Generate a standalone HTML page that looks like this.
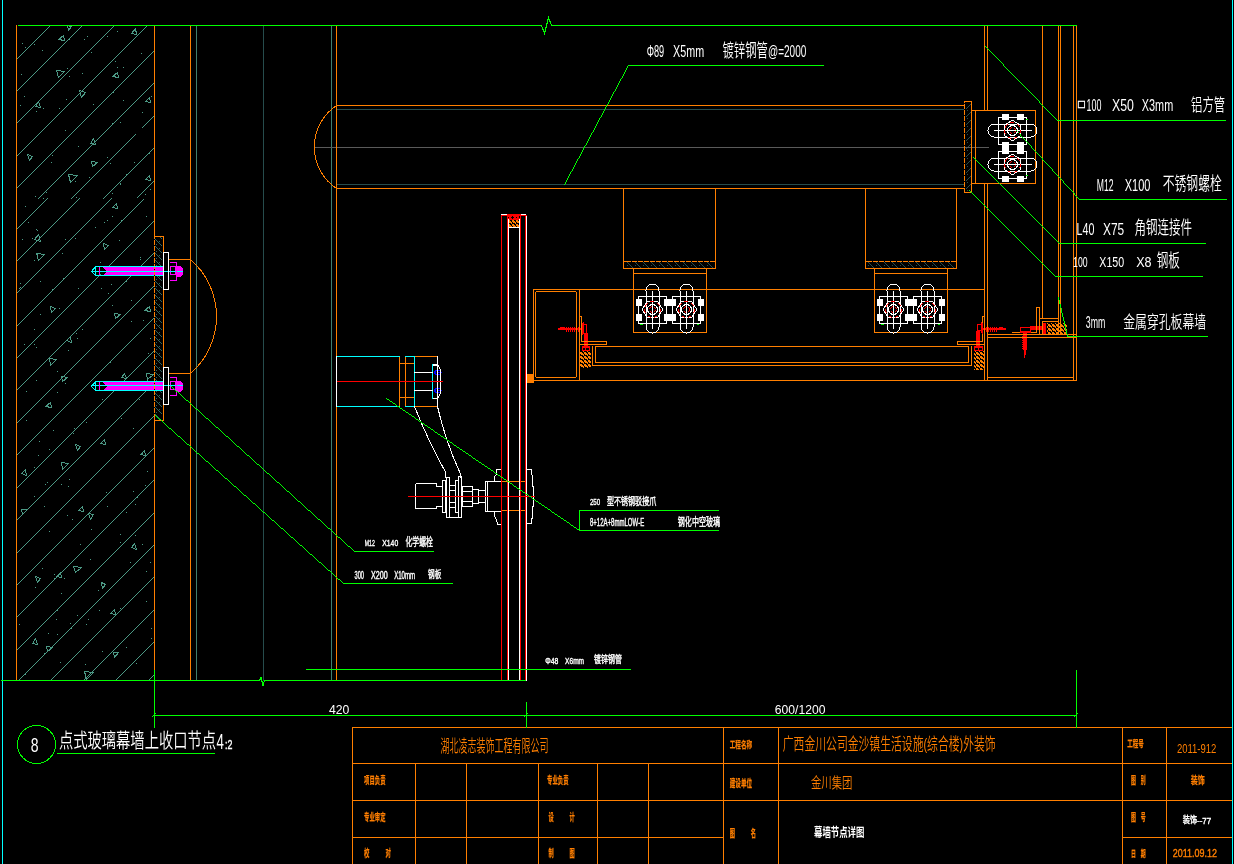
<!DOCTYPE html>
<html lang="zh-CN"><head><meta charset="utf-8"><title>点式玻璃幕墙上收口节点 - 幕墙节点详图</title>
<style>
html,body{margin:0;padding:0;background:#000;overflow:hidden}
svg{display:block}
.s{fill:none;stroke-width:1}
text{white-space:pre}
.l{font-family:"Liberation Sans",sans-serif}
.c{font-family:"Liberation Sans","Noto Sans CJK SC","WenQuanYi Zen Hei",sans-serif}
</style></head><body>
<svg width="1234" height="864" viewBox="0 0 1234 864">
<rect width="1234" height="864" fill="#000"/>
<g shape-rendering="crispEdges">
<path class="s" stroke="#4c9985" d="M17.05 58.95L49.95 26.05M17.05 90.95L81.95 26.05M17.05 122.95L113.95 26.05M17.05 155.95L146.95 26.05M17.05 187.95L153.95 51.05M38.05 198.95L153.95 83.05M71.05 198.95L135.95 134.05M142.05 127.95L153.95 116.05M103.05 198.95L153.95 148.05M137.05 197.95L153.95 181.05M17.05 228.95L47.95 198.05M17.05 260.95L79.95 198.05M17.05 292.95L111.95 198.05M17.05 325.95L143.95 199.05M17.05 357.95L153.95 221.05M17.05 389.95L153.95 253.05M17.05 422.95L153.95 286.05M17.05 454.95L153.95 318.05M17.05 487.95L153.95 351.05M17.05 519.95L153.95 383.05M17.05 552.95L153.95 416.05M17.05 584.95L153.95 448.05M17.05 616.95L153.95 480.05M17.05 649.95L153.95 513.05M19.05 679.95L153.95 545.05M51.05 679.95L153.95 577.05M84.05 679.95L153.95 610.05M116.05 679.95L153.95 642.05M149.05 679.95L153.95 675.05M58.5 39.5L63.5 35.5L64.5 40.5ZM135.5 28.5L136.5 34.5L131.5 33.5ZM64.5 71.5L58.5 77.5L56.5 70.5ZM112.5 76.5L117.5 72.5L118.5 77.5ZM81.5 97.5L79.5 90.5L85.5 92.5ZM38.5 101.5L40.5 107.5L35.5 106.5ZM145.5 101.5L149.5 97.5L150.5 102.5ZM93.5 138.5L95.5 144.5L90.5 143.5ZM29.5 160.5L27.5 154.5L32.5 156.5ZM97.5 162.5L92.5 166.5L91.5 161.5ZM77.5 175.5L70.5 182.5L68.5 174.5ZM145.5 179.5L149.5 175.5L150.5 180.5ZM112.5 207.5L116.5 203.5L117.5 208.5ZM38.5 234.5L40.5 241.5L34.5 239.5ZM44.5 254.5L38.5 260.5L36.5 253.5ZM104.5 249.5L103.5 243.5L108.5 245.5ZM51.5 312.5L50.5 306.5L55.5 308.5ZM120.5 314.5L115.5 318.5L114.5 313.5ZM144.5 310.5L149.5 306.5L150.5 311.5ZM70.5 336.5L71.5 342.5L66.5 340.5ZM56.5 359.5L50.5 365.5L49.5 358.5ZM67.5 377.5L62.5 381.5L61.5 376.5ZM45.5 406.5L50.5 402.5L51.5 407.5ZM124.5 373.5L126.5 378.5L121.5 377.5ZM153.5 374.5L147.5 379.5L146.5 373.5ZM77.5 450.5L75.5 444.5L80.5 446.5ZM100.5 443.5L104.5 439.5L105.5 444.5ZM140.5 454.5L144.5 450.5L145.5 455.5ZM25.5 469.5L26.5 475.5L21.5 473.5ZM68.5 463.5L62.5 469.5L61.5 462.5ZM27.5 509.5L22.5 514.5L21.5 509.5ZM78.5 510.5L82.5 506.5L83.5 511.5ZM90.5 519.5L88.5 513.5L93.5 514.5ZM134.5 543.5L136.5 549.5L131.5 547.5ZM81.5 567.5L75.5 572.5L73.5 566.5ZM37.5 582.5L35.5 576.5L40.5 578.5ZM56.5 576.5L60.5 572.5L61.5 577.5ZM102.5 588.5L101.5 582.5L105.5 584.5ZM110.5 613.5L114.5 609.5L115.5 614.5ZM35.5 638.5L37.5 644.5L32.5 643.5ZM52.5 647.5L47.5 651.5L46.5 646.5ZM118.5 652.5L114.5 657.5L113.5 652.5ZM93.5 672.5L86.5 679.5L84.5 671.5ZM68.5 30.5L67.5 25.5L71.5 26.5Z"/>
<path class="s" stroke="#2c635d" d="M160.5 237.5L162.5 239.5M155.5 239.5L162.5 246.5M155.5 246.5L162.5 253.5M155.5 253.5L162.5 260.5M155.5 260.5L162.5 267.5M155.5 267.5L162.5 274.5M155.5 274.5L162.5 281.5M155.5 281.5L162.5 288.5M155.5 288.5L162.5 295.5M155.5 295.5L162.5 302.5M155.5 302.5L162.5 309.5M155.5 309.5L162.5 316.5M155.5 316.5L162.5 323.5M155.5 323.5L162.5 330.5M155.5 330.5L162.5 337.5M155.5 337.5L162.5 344.5M155.5 344.5L162.5 351.5M155.5 351.5L162.5 358.5M155.5 358.5L162.5 365.5M155.5 365.5L162.5 372.5M155.5 372.5L162.5 379.5M155.5 379.5L162.5 386.5M155.5 386.5L162.5 393.5M155.5 393.5L162.5 400.5M155.5 400.5L162.5 407.5M155.5 407.5L162.5 414.5M155.5 414.5L160.5 419.5"/>
<path class="s" stroke="#264c4c" d="M263.5 25V681M336 109.5H965M336 184.5H965M627.5 262.5L633.5 268.5M635.5 262.5L641.5 268.5M643.5 262.5L649.5 268.5M651.5 262.5L657.5 268.5M659.5 262.5L665.5 268.5M667.5 262.5L673.5 268.5M675.5 262.5L681.5 268.5M683.5 262.5L689.5 268.5M691.5 262.5L697.5 268.5M699.5 262.5L705.5 268.5M707.5 262.5L713.5 268.5M868.5 262.5L874.5 268.5M876.5 262.5L882.5 268.5M884.5 262.5L890.5 268.5M892.5 262.5L898.5 268.5M900.5 262.5L906.5 268.5M908.5 262.5L914.5 268.5M916.5 262.5L922.5 268.5M924.5 262.5L930.5 268.5M932.5 262.5L938.5 268.5M940.5 262.5L946.5 268.5M948.5 262.5L954.5 268.5M965.5 109.5L970.5 104.5M965.5 117.5L970.5 112.5M965.5 125.5L970.5 120.5M965.5 133.5L970.5 128.5M965.5 141.5L970.5 136.5M965.5 149.5L970.5 144.5M965.5 157.5L970.5 152.5M965.5 165.5L970.5 160.5M965.5 173.5L970.5 168.5M965.5 181.5L970.5 176.5M965.5 189.5L970.5 184.5"/>
<path class="s" stroke="#3f7f6f" d="M196.5 25V681M331.5 25V681"/>
<path class="s" stroke="#5a5a5a" d="M314 147.5H989"/>
<path d="M22 43h1v1h-1zM25 47h1v1h-1zM34 44h1v1h-1zM42 50h1v1h-1zM69 39h1v1h-1zM84 39h1v1h-1zM87 36h1v1h-1zM107 36h1v1h-1zM117 31h1v1h-1zM91 52h1v1h-1zM141 53h1v1h-1zM115 61h1v1h-1zM117 67h1v1h-1zM123 67h1v1h-1zM21 74h1v1h-1zM67 68h1v1h-1zM69 76h1v1h-1zM82 73h1v1h-1zM24 96h1v1h-1zM20 105h1v1h-1zM36 111h1v1h-1zM43 108h1v1h-1zM59 108h1v1h-1zM66 99h1v1h-1zM74 98h1v1h-1zM93 104h1v1h-1zM93 111h1v1h-1zM113 92h1v1h-1zM123 100h1v1h-1zM142 112h1v1h-1zM112 123h1v1h-1zM120 122h1v1h-1zM65 130h1v1h-1zM151 96h1v1h-1zM101 288h1v1h-1zM120 183h1v1h-1zM37 230h1v1h-1zM112 193h1v1h-1zM148 353h1v1h-1zM28 222h1v1h-1zM130 562h1v1h-1zM36 380h1v1h-1zM42 568h1v1h-1zM34 260h1v1h-1zM76 197h1v1h-1zM120 184h1v1h-1zM75 181h1v1h-1zM53 430h1v1h-1zM126 281h1v1h-1zM49 449h1v1h-1zM65 239h1v1h-1zM67 515h1v1h-1zM43 198h1v1h-1zM34 344h1v1h-1zM146 571h1v1h-1zM99 610h1v1h-1zM135 504h1v1h-1zM95 388h1v1h-1zM65 383h1v1h-1zM39 441h1v1h-1zM145 485h1v1h-1zM133 428h1v1h-1zM37 254h1v1h-1zM150 562h1v1h-1zM61 484h1v1h-1zM57 634h1v1h-1zM126 174h1v1h-1zM38 455h1v1h-1zM106 492h1v1h-1zM146 601h1v1h-1zM36 229h1v1h-1zM88 619h1v1h-1zM35 196h1v1h-1zM98 590h1v1h-1zM91 529h1v1h-1zM107 157h1v1h-1zM137 497h1v1h-1zM62 253h1v1h-1zM145 194h1v1h-1zM74 428h1v1h-1zM52 387h1v1h-1zM120 534h1v1h-1zM146 216h1v1h-1zM61 593h1v1h-1zM121 418h1v1h-1zM54 574h1v1h-1zM90 559h1v1h-1zM110 523h1v1h-1zM78 288h1v1h-1zM40 314h1v1h-1zM57 371h1v1h-1zM78 146h1v1h-1zM143 320h1v1h-1zM86 422h1v1h-1zM20 283h1v1h-1zM126 512h1v1h-1zM100 262h1v1h-1zM150 189h1v1h-1zM135 535h1v1h-1zM120 542h1v1h-1zM119 240h1v1h-1zM142 544h1v1h-1zM34 329h1v1h-1zM36 347h1v1h-1zM131 300h1v1h-1zM47 482h1v1h-1zM32 238h1v1h-1zM19 288h1v1h-1zM44 506h1v1h-1zM25 206h1v1h-1zM72 519h1v1h-1zM57 392h1v1h-1zM107 506h1v1h-1zM140 259h1v1h-1zM48 633h1v1h-1zM138 625h1v1h-1zM142 453h1v1h-1zM40 281h1v1h-1zM45 484h1v1h-1zM86 624h1v1h-1zM60 662h1v1h-1zM24 344h1v1h-1zM111 284h1v1h-1zM25 674h1v1h-1zM95 227h1v1h-1zM85 664h1v1h-1zM112 305h1v1h-1zM110 362h1v1h-1zM147 471h1v1h-1zM76 333h1v1h-1zM80 544h1v1h-1zM77 338h1v1h-1zM151 638h1v1h-1zM110 163h1v1h-1zM26 420h1v1h-1zM139 399h1v1h-1zM68 486h1v1h-1zM133 491h1v1h-1zM112 216h1v1h-1zM75 238h1v1h-1zM77 615h1v1h-1zM69 479h1v1h-1zM71 628h1v1h-1zM19 624h1v1h-1zM107 220h1v1h-1zM49 531h1v1h-1zM70 623h1v1h-1zM64 578h1v1h-1zM104 222h1v1h-1zM120 608h1v1h-1zM121 220h1v1h-1zM59 308h1v1h-1zM51 162h1v1h-1zM57 610h1v1h-1zM56 619h1v1h-1zM108 293h1v1h-1zM52 155h1v1h-1zM22 239h1v1h-1zM54 578h1v1h-1zM68 350h1v1h-1zM26 391h1v1h-1zM73 433h1v1h-1zM147 380h1v1h-1zM102 399h1v1h-1zM126 268h1v1h-1zM34 496h1v1h-1zM136 663h1v1h-1zM126 647h1v1h-1zM52 289h1v1h-1zM149 153h1v1h-1zM131 321h1v1h-1zM20 287h1v1h-1zM63 278h1v1h-1zM140 257h1v1h-1zM34 467h1v1h-1zM151 628h1v1h-1zM46 192h1v1h-1zM82 329h1v1h-1zM89 177h1v1h-1zM44 653h1v1h-1zM134 162h1v1h-1zM35 587h1v1h-1zM102 651h1v1h-1zM150 338h1v1h-1z" fill="#4c9985"/>
<rect x="527" y="374" width="7" height="9" fill="#ff7f00"/>
<rect x="507" y="214" width="14" height="6" fill="#ff0000"/>
<path d="M512 216h1v1h1v1h-1v1h-1v-1h-1v-1h1zM516 217h1v1h-1zM508 217h1v1h-1zM519 216h1v2h-1z" fill="#000"/>
<rect x="509" y="220" width="10" height="7" fill="url(#sl)"/>
<path d="M156 244h1v1h-1zM159 241h1v1h-1zM156 251h1v1h-1zM159 248h1v1h-1zM156 258h1v1h-1zM159 255h1v1h-1zM156 265h1v1h-1zM159 262h1v1h-1zM156 272h1v1h-1zM159 269h1v1h-1zM156 279h1v1h-1zM159 276h1v1h-1zM156 286h1v1h-1zM159 283h1v1h-1zM156 293h1v1h-1zM159 290h1v1h-1zM156 300h1v1h-1zM159 297h1v1h-1zM156 307h1v1h-1zM159 304h1v1h-1zM156 314h1v1h-1zM159 311h1v1h-1zM156 321h1v1h-1zM159 318h1v1h-1zM156 328h1v1h-1zM159 325h1v1h-1zM156 335h1v1h-1zM159 332h1v1h-1zM156 342h1v1h-1zM159 339h1v1h-1zM156 349h1v1h-1zM159 346h1v1h-1zM156 356h1v1h-1zM159 353h1v1h-1zM156 363h1v1h-1zM159 360h1v1h-1zM156 370h1v1h-1zM159 367h1v1h-1zM156 377h1v1h-1zM159 374h1v1h-1zM156 384h1v1h-1zM159 381h1v1h-1zM156 391h1v1h-1zM159 388h1v1h-1zM156 398h1v1h-1zM159 395h1v1h-1zM156 405h1v1h-1zM159 402h1v1h-1zM156 412h1v1h-1zM159 409h1v1h-1z" fill="#2c635d"/>
<rect x="101" y="267" width="62" height="9" fill="#ff00ff"/>
<path d="M101 267h2l4 4.5l-4 4.5h-2z" fill="#000"/>
<path d="M176 266h4l3 3v5l-3 3h-4z" fill="#ff00ff"/>
<rect x="170" y="266.5" width="5" height="8" class="s" stroke="#ff00ff"/>
<rect x="101" y="382" width="62" height="9" fill="#ff00ff"/>
<path d="M101 382h2l4 4.5l-4 4.5h-2z" fill="#000"/>
<path d="M176 381h4l3 3v5l-3 3h-4z" fill="#ff00ff"/>
<rect x="170" y="381.5" width="5" height="8" class="s" stroke="#ff00ff"/>
<rect x="635.5" y="298.5" width="6" height="7" fill="#ffffff"/>
<rect x="635.5" y="313.5" width="6" height="7" fill="#ffffff"/>
<rect x="663.5" y="298.5" width="6" height="7" fill="#ffffff"/>
<rect x="663.5" y="313.5" width="6" height="7" fill="#ffffff"/>
<rect x="669.5" y="298.5" width="6" height="7" fill="#ffffff"/>
<rect x="669.5" y="313.5" width="6" height="7" fill="#ffffff"/>
<rect x="697.5" y="298.5" width="6" height="7" fill="#ffffff"/>
<rect x="697.5" y="313.5" width="6" height="7" fill="#ffffff"/>
<rect x="876.5" y="298.5" width="6" height="7" fill="#ffffff"/>
<rect x="876.5" y="313.5" width="6" height="7" fill="#ffffff"/>
<rect x="904.5" y="298.5" width="6" height="7" fill="#ffffff"/>
<rect x="904.5" y="313.5" width="6" height="7" fill="#ffffff"/>
<rect x="910.5" y="298.5" width="6" height="7" fill="#ffffff"/>
<rect x="910.5" y="313.5" width="6" height="7" fill="#ffffff"/>
<rect x="938.5" y="298.5" width="6" height="7" fill="#ffffff"/>
<rect x="938.5" y="313.5" width="6" height="7" fill="#ffffff"/>
<rect x="1001.5" y="113.5" width="7" height="6" fill="#ffffff"/>
<rect x="1016.5" y="113.5" width="7" height="6" fill="#ffffff"/>
<rect x="1001.5" y="141.5" width="7" height="6" fill="#ffffff"/>
<rect x="1016.5" y="141.5" width="7" height="6" fill="#ffffff"/>
<rect x="1001.5" y="147.5" width="7" height="6" fill="#ffffff"/>
<rect x="1016.5" y="147.5" width="7" height="6" fill="#ffffff"/>
<rect x="1001.5" y="175.5" width="7" height="6" fill="#ffffff"/>
<rect x="1016.5" y="175.5" width="7" height="6" fill="#ffffff"/>
<path d="M627 265h1v1h-1zM635 265h1v1h-1zM643 265h1v1h-1zM651 265h1v1h-1zM659 265h1v1h-1zM667 265h1v1h-1zM675 265h1v1h-1zM683 265h1v1h-1zM691 265h1v1h-1zM699 265h1v1h-1zM707 265h1v1h-1zM868 265h1v1h-1zM876 265h1v1h-1zM884 265h1v1h-1zM892 265h1v1h-1zM900 265h1v1h-1zM908 265h1v1h-1zM916 265h1v1h-1zM924 265h1v1h-1zM932 265h1v1h-1zM940 265h1v1h-1zM948 265h1v1h-1zM967 110h1v1h-1zM967 118h1v1h-1zM967 126h1v1h-1zM967 134h1v1h-1zM967 142h1v1h-1zM967 150h1v1h-1zM967 158h1v1h-1zM967 166h1v1h-1zM967 174h1v1h-1zM967 182h1v1h-1zM967 190h1v1h-1z" fill="#264c4c"/>
<rect x="434" y="371" width="2" height="3" fill="#0000ff"/>
<rect x="434" y="389" width="2" height="3" fill="#0000ff"/>
<rect x="580" y="351" width="11" height="17" fill="url(#sl)"/>
<rect x="974" y="351" width="11" height="19" fill="url(#sl)"/>
<rect x="1047" y="323" width="20" height="11" fill="url(#sl)"/>
<rect x="566" y="328" width="16" height="2" fill="#ff0000"/>
<rect x="566" y="326.5" width="1" height="5" fill="#ff0000"/>
<rect x="568" y="326.5" width="1" height="5" fill="#ff0000"/>
<rect x="570" y="326.5" width="1" height="5" fill="#ff0000"/>
<rect x="572" y="326.5" width="1" height="5" fill="#ff0000"/>
<rect x="574" y="326.5" width="1" height="5" fill="#ff0000"/>
<rect x="576" y="326.5" width="1" height="5" fill="#ff0000"/>
<rect x="578" y="326.5" width="1" height="5" fill="#ff0000"/>
<rect x="558" y="328" width="8" height="2" fill="#ff0000"/>
<rect x="560" y="327" width="5" height="1" fill="#ff0000"/>
<rect x="584" y="333" width="4" height="14" fill="#ff0000"/>
<rect x="983" y="328" width="15" height="2" fill="#ff0000"/>
<rect x="984" y="326.5" width="1" height="5" fill="#ff0000"/>
<rect x="986" y="326.5" width="1" height="5" fill="#ff0000"/>
<rect x="988" y="326.5" width="1" height="5" fill="#ff0000"/>
<rect x="990" y="326.5" width="1" height="5" fill="#ff0000"/>
<rect x="992" y="326.5" width="1" height="5" fill="#ff0000"/>
<rect x="994" y="326.5" width="1" height="5" fill="#ff0000"/>
<rect x="996" y="326.5" width="1" height="5" fill="#ff0000"/>
<rect x="998" y="328" width="8" height="2" fill="#ff0000"/>
<rect x="999" y="327" width="4" height="1" fill="#ff0000"/>
<rect x="976" y="331" width="4" height="15" fill="#ff0000"/>
<rect x="1030" y="326" width="13" height="4" fill="#ff0000"/>
<rect x="1042" y="323" width="4" height="11" fill="#ff0000"/>
<rect x="1023" y="332" width="4" height="18" fill="#ff0000"/>
<rect x="1022" y="334" width="5" height="1" fill="#ff0000"/>
<rect x="1022" y="336" width="5" height="1" fill="#ff0000"/>
<rect x="1022" y="338" width="5" height="1" fill="#ff0000"/>
<rect x="1022" y="340" width="5" height="1" fill="#ff0000"/>
<rect x="1022" y="342" width="5" height="1" fill="#ff0000"/>
<rect x="1022" y="344" width="5" height="1" fill="#ff0000"/>
<rect x="1022" y="346" width="5" height="1" fill="#ff0000"/>
<rect x="1022" y="348" width="5" height="1" fill="#ff0000"/>
<rect x="1024" y="350" width="2" height="5" fill="#ff0000"/>
<rect x="1024" y="355" width="1" height="3" fill="#ff0000"/>
<path class="s" stroke="#ff7f00" d="M16.5 25V681M154.5 25V681M190.5 25V681M336.5 25V356M336.5 407V681M336 105.5H965M336 188.5H965M336.5 105.5A50 50 0 0 0 336.5 188.5M964.5 101.5H971.5V192.5H964.5ZM971.5 110.5H1035.5V183.5H971.5ZM975.5 110V184M984.5 25V111M984.5 183V381M987.5 25V111M987.5 183V381M1042.5 25V319M1058.5 25V335M1060.5 25V335M1073.5 25V381M1076.5 25V381M623.5 188V269M715.5 188V269M623 268.5H716M623 261.5H716M633.5 268.5H706.5V332.5H633.5ZM633 273.5H707M865.5 188V269M956.5 188V269M865 268.5H957M865 261.5H957M874.5 268.5H947.5V332.5H874.5ZM874 273.5H948M533 289.5H985M533 380.5H1077M533.5 289.5H579.5V380.5H533.5ZM537.5 291.5H574.5Q576.5 291.5 576.5 293.5V375.5Q576.5 377.5 574.5 377.5H537.5Q535.5 377.5 535.5 375.5V293.5Q535.5 291.5 537.5 291.5ZM595 346.5H969M595 362.5H969M592 365.5H972M592.5 346V366M595.5 346V363M968.5 346V363M971.5 346V366M987 334.5H1077M987 337.5H1077M987 377.5H1074M352 727.5H1233M352 763.5H1233M352 800.5H1233M352 837.5H724M1122 837.5H1233M352.5 727V864M723.5 727V864M778.5 727V864M1122.5 727V864M1166.5 727V864M415.5 763V864M466.5 763V864M538.5 763V864M597.5 763V864M648.5 763V864M154.5 236.5H163.5V420.5H154.5ZM168 259.5H191M168 373.5H191M190.5 259.5A75.5 75.5 0 0 1 190.5 373.5M399.5 356V407M405.5 356V407M399 363.5H415M399 397.5H415M414 356.5H438M414 406.5H438M502 481.5H526M502 510.5H526M579.5 316.5L581.5 316.5L581.5 341.5L606.5 341.5L606.5 344.5L579.5 344.5M984.5 316.5L982.5 316.5L982.5 341.5L957.5 341.5L957.5 344.5L984.5 344.5M1036.5 307.5L1039.5 307.5L1039.5 334.5M1036.5 307V333M1012 332.5H1037M1040 318.5H1059M1042 321.5H1059M1042.5 321V335"/>
<path class="s" stroke="#00ffff" d="M2.5 0V864M1232.5 0V864M95.5 266.5H163.5V275.5H95.5ZM91 271.5H183M95.5 266.5L91.5 271.5L95.5 275.5M95.5 381.5H163.5V390.5H95.5ZM91 385.5H183M95.5 381.5L91.5 386.5L95.5 390.5M337 356.5H400M337 406.5H400M405 356.5H415M405 406.5H415M414.5 356V407M432.5 364.5H437.5V398.5H432.5Z"/>
<path class="s" stroke="#ff00ff" d="M99.5 267V275M169.5 262.5L176.5 262.5L176.5 280.5L169.5 280.5M176.5 262V281M99.5 382V390M169.5 377.5L176.5 377.5L176.5 395.5L169.5 395.5M176.5 377V396"/>
<path class="s" stroke="#0000ff" d="M435 370.5H440M435 374.5H440M437 372.5H442M435 388.5H440M435 392.5H440M437 390.5H442"/>
<path class="s" stroke="#ffffff" d="M508.5 219V681M519.5 219V681M526.5 215V681M501 214.5H507M521 214.5H526M508 227.5H520M163.5 252.5H168.5V289.5H163.5ZM163.5 367.5H168.5V404.5H163.5ZM646 290.5V326.5A6.5 6.5 0 0 0 659 326.5V290.5A6.5 6.5 0 0 0 646 290.5ZM652.5 290.5L652.5 328.5M638 296H666.5V323H638ZM642.2 309.5L647.3 301.5L657.7 301.5L662.8 309.5L657.7 317.5L647.3 317.5ZM680 290.5V326.5A6.5 6.5 0 0 0 693 326.5V290.5A6.5 6.5 0 0 0 680 290.5ZM686.5 290.5L686.5 328.5M672 296H700.5V323H672ZM676.2 309.5L681.3 301.5L691.7 301.5L696.8 309.5L691.7 317.5L681.3 317.5ZM887 290.5V326.5A6.5 6.5 0 0 0 900 326.5V290.5A6.5 6.5 0 0 0 887 290.5ZM893.5 290.5L893.5 328.5M879 296H907.5V323H879ZM883.2 309.5L888.3 301.5L898.7 301.5L903.8 309.5L898.7 317.5L888.3 317.5ZM921 290.5V326.5A6.5 6.5 0 0 0 934 326.5V290.5A6.5 6.5 0 0 0 921 290.5ZM927.5 290.5L927.5 328.5M913 296H941.5V323H913ZM917.2 309.5L922.3 301.5L932.7 301.5L937.8 309.5L932.7 317.5L922.3 317.5ZM994.5 124H1030.5A6.5 6.5 0 0 1 1030.5 137H994.5A6.5 6.5 0 0 1 994.5 124ZM993.5 130.5L1031.5 130.5M998 117H1026.5V144H998ZM1012.5 120.2L1004.5 125.3L1004.5 135.7L1012.5 140.8L1020.5 135.7L1020.5 125.3ZM994.5 158H1030.5A6.5 6.5 0 0 1 1030.5 171H994.5A6.5 6.5 0 0 1 994.5 158ZM993.5 164.5L1031.5 164.5M998 151H1026.5V178H998ZM1012.5 154.2L1004.5 159.3L1004.5 169.7L1012.5 174.8L1020.5 169.7L1020.5 159.3ZM336.5 356V407M437.5 356V407M414 372.5H433M414 390.5H433M432.5 364.5H437.5L440.5 369.5V393.5L437.5 398.5H432.5M432.5 365.5H437.5M414.5 406.5Q430 445 445.5 472V478M437.5 406.5Q445 440 460.5 474V478M415.5 483.5L436.5 483.5L436.5 486.5L442.5 486.5M415.5 483.5L415.5 508.5L436.5 508.5L436.5 506.5L442.5 506.5M442.5 480.5H445.5V512.5H442.5ZM446.5 477.5H449.5V517.5H446.5ZM455.5 480.5H458.5V512.5H455.5ZM458.5 476.5H461.5V517.5H458.5ZM446 517.5H462M449 485.5H456M449 490.5H456M449 502.5H456M449 507.5H456M462.5 486.5H472.5V506.5H462.5ZM462 491.5H473M462 501.5H473M472.5 489.5H478.5V503.5H472.5ZM478 490.5H486M478 502.5H486M485.5 481.5H501.5V511.5H485.5ZM487.5 481V512M501.5 469.5L496.5 469.5L496.5 474.5L494.5 476.5L494.5 481.5M501.5 524.5L497.5 524.5L496.5 519.5L494.5 516.5L494.5 511.5M526.5 469.5H531.5V474L532.5 476V486L533.5 487V506L532.5 507V518L531.5 519V523.5H526.5"/>
<path class="s" stroke="#ff0000" d="M501.5 215V681M507.5 214V681M520.5 214V681M525.5 215V681M501 215.5H527M337 381.5H443M408 496.5H535M582.5 324.5H586.5V333.5H582.5ZM583.5 322V334M582.5 323V335M582.5 346.5H589.5V350.5H582.5ZM582 347.5H590M585.5 346V351M977.5 324.5H982.5V330.5H977.5ZM981.5 322V333M982.5 323V334M974.5 346.5H982.5V350.5H974.5ZM974 347.5H983M978.5 346V351M1020.5 327.5H1030.5V332.5H1020.5ZM1020 331.5H1031"/>
<path class="s" stroke="#00ff00" d="M17.5 25.5L541.5 25.5L544.5 33.5L548.5 17.5L551.5 25.5L1076.5 25.5M0.5 680.5L259.5 680.5L261 677.5L263 685.5L264.5 680.5L525.5 680.5M306 669.5H631M154 715.5H1077M154.5 670V728M526.5 702V728M1076.5 670V728M57 753.5H215M640 324.5H643M697 324.5H699M881 324.5H884M938 324.5H940M1026 119.5H1028M1026 175.5H1028"/>
<path fill="#00ff00" d="M564 184h1v1h-1zM565 182h1v2h-1zM566 180h1v2h-1zM567 178h1v2h-1zM568 176h1v2h-1zM569 174h1v2h-1zM570 172h1v2h-1zM571 171h1v1h-1zM572 169h1v2h-1zM573 167h1v2h-1zM574 165h1v2h-1zM575 163h1v2h-1zM576 161h1v2h-1zM577 159h1v2h-1zM578 158h1v1h-1zM579 156h1v2h-1zM580 154h1v2h-1zM581 152h1v2h-1zM582 150h1v2h-1zM583 148h1v2h-1zM584 146h1v2h-1zM585 145h1v1h-1zM586 143h1v2h-1zM587 141h1v2h-1zM588 139h1v2h-1zM589 137h1v2h-1zM590 135h1v2h-1zM591 133h1v2h-1zM592 132h1v1h-1zM593 130h1v2h-1zM594 128h1v2h-1zM595 126h1v2h-1zM596 124h1v2h-1zM597 122h1v2h-1zM598 120h1v2h-1zM599 118h1v2h-1zM600 117h1v1h-1zM601 115h1v2h-1zM602 113h1v2h-1zM603 111h1v2h-1zM604 109h1v2h-1zM605 107h1v2h-1zM606 105h1v2h-1zM607 104h1v1h-1zM608 102h1v2h-1zM609 100h1v2h-1zM610 98h1v2h-1zM611 96h1v2h-1zM612 94h1v2h-1zM613 92h1v2h-1zM614 91h1v1h-1zM615 89h1v2h-1zM616 87h1v2h-1zM617 85h1v2h-1zM618 83h1v2h-1zM619 81h1v2h-1zM620 79h1v2h-1zM621 78h1v1h-1zM622 76h1v2h-1zM623 74h1v2h-1zM624 72h1v2h-1zM625 70h1v2h-1zM626 68h1v2h-1zM627 66h1v2h-1zM628 65h1v1h-1zM628 65h196v1h-196zM985 46h1v1h-1zM986 47h1v1h-1zM987 48h1v1h-1zM988 49h1v1h-1zM989 50h1v1h-1zM990 51h1v1h-1zM991 52h1v1h-1zM992 53h1v1h-1zM993 54h1v1h-1zM994 55h1v1h-1zM995 56h1v1h-1zM996 57h1v1h-1zM997 58h1v1h-1zM998 59h1v1h-1zM999 60h1v1h-1zM1000 61h1v1h-1zM1001 62h1v1h-1zM1002 63h1v1h-1zM1003 64h1v2h-1zM1004 66h1v1h-1zM1005 67h1v1h-1zM1006 68h1v1h-1zM1007 69h1v1h-1zM1008 70h1v1h-1zM1009 71h1v1h-1zM1010 72h1v1h-1zM1011 73h1v1h-1zM1012 74h1v1h-1zM1013 75h1v1h-1zM1014 76h1v1h-1zM1015 77h1v1h-1zM1016 78h1v1h-1zM1017 79h1v1h-1zM1018 80h1v1h-1zM1019 81h1v1h-1zM1020 82h1v1h-1zM1021 83h1v1h-1zM1022 84h1v1h-1zM1023 85h1v1h-1zM1024 86h1v1h-1zM1025 87h1v1h-1zM1026 88h1v1h-1zM1027 89h1v1h-1zM1028 90h1v1h-1zM1029 91h1v1h-1zM1030 92h1v1h-1zM1031 93h1v1h-1zM1032 94h1v1h-1zM1033 95h1v1h-1zM1034 96h1v1h-1zM1035 97h1v1h-1zM1036 98h1v1h-1zM1037 99h1v1h-1zM1038 100h1v1h-1zM1039 101h1v2h-1zM1040 103h1v1h-1zM1041 104h1v1h-1zM1042 105h1v1h-1zM1043 106h1v1h-1zM1044 107h1v1h-1zM1045 108h1v1h-1zM1046 109h1v1h-1zM1047 110h1v1h-1zM1048 111h1v1h-1zM1049 112h1v1h-1zM1050 113h1v1h-1zM1051 114h1v1h-1zM1052 115h1v1h-1zM1053 116h1v1h-1zM1054 117h1v1h-1zM1055 118h1v1h-1zM1056 119h1v1h-1zM1057 120h1v1h-1zM1057 120h169v1h-169zM1015 129h1v1h-1zM1016 130h1v1h-1zM1017 131h1v1h-1zM1018 132h1v1h-1zM1019 133h1v1h-1zM1020 134h1v2h-1zM1021 136h1v1h-1zM1022 137h1v1h-1zM1023 138h1v1h-1zM1024 139h1v1h-1zM1025 140h1v1h-1zM1026 141h1v1h-1zM1027 142h1v1h-1zM1028 143h1v1h-1zM1029 144h1v1h-1zM1030 145h1v1h-1zM1031 146h1v2h-1zM1032 148h1v1h-1zM1033 149h1v1h-1zM1034 150h1v1h-1zM1035 151h1v1h-1zM1036 152h1v1h-1zM1037 153h1v1h-1zM1038 154h1v1h-1zM1039 155h1v1h-1zM1040 156h1v1h-1zM1041 157h1v1h-1zM1042 158h1v2h-1zM1043 160h1v1h-1zM1044 161h1v1h-1zM1045 162h1v1h-1zM1046 163h1v1h-1zM1047 164h1v1h-1zM1048 165h1v1h-1zM1049 166h1v1h-1zM1050 167h1v1h-1zM1051 168h1v1h-1zM1052 169h1v2h-1zM1053 171h1v1h-1zM1054 172h1v1h-1zM1055 173h1v1h-1zM1056 174h1v1h-1zM1057 175h1v1h-1zM1058 176h1v1h-1zM1059 177h1v1h-1zM1060 178h1v1h-1zM1061 179h1v1h-1zM1062 180h1v1h-1zM1063 181h1v2h-1zM1064 183h1v1h-1zM1065 184h1v1h-1zM1066 185h1v1h-1zM1067 186h1v1h-1zM1068 187h1v1h-1zM1069 188h1v1h-1zM1070 189h1v1h-1zM1071 190h1v1h-1zM1072 191h1v1h-1zM1073 192h1v1h-1zM1074 193h1v2h-1zM1075 195h1v1h-1zM1076 196h1v1h-1zM1077 197h1v1h-1zM1078 198h1v1h-1zM1079 199h1v1h-1zM1079 199h148v1h-148zM973 157h1v1h-1zM974 158h1v1h-1zM975 159h1v1h-1zM976 160h1v1h-1zM977 161h1v1h-1zM978 162h1v1h-1zM979 163h1v1h-1zM980 164h1v1h-1zM981 165h1v1h-1zM982 166h1v1h-1zM983 167h1v1h-1zM984 168h1v1h-1zM985 169h1v1h-1zM986 170h1v1h-1zM987 171h1v1h-1zM988 172h1v1h-1zM989 173h1v1h-1zM990 174h1v1h-1zM991 175h1v1h-1zM992 176h1v1h-1zM993 177h1v1h-1zM994 178h1v1h-1zM995 179h1v1h-1zM996 180h1v1h-1zM997 181h1v1h-1zM998 182h1v1h-1zM999 183h1v1h-1zM1000 184h1v1h-1zM1001 185h1v1h-1zM1002 186h1v1h-1zM1003 187h1v1h-1zM1004 188h1v1h-1zM1005 189h1v1h-1zM1006 190h1v1h-1zM1007 191h1v1h-1zM1008 192h1v1h-1zM1009 193h1v1h-1zM1010 194h1v1h-1zM1011 195h1v1h-1zM1012 196h1v1h-1zM1013 197h1v1h-1zM1014 198h1v1h-1zM1015 199h1v1h-1zM1016 200h1v1h-1zM1017 201h1v1h-1zM1018 202h1v1h-1zM1019 203h1v1h-1zM1020 204h1v1h-1zM1021 205h1v1h-1zM1022 206h1v1h-1zM1023 207h1v1h-1zM1024 208h1v1h-1zM1025 209h1v1h-1zM1026 210h1v1h-1zM1027 211h1v1h-1zM1028 212h1v1h-1zM1029 213h1v1h-1zM1030 214h1v1h-1zM1031 215h1v1h-1zM1032 216h1v1h-1zM1033 217h1v1h-1zM1034 218h1v1h-1zM1035 219h1v1h-1zM1036 220h1v1h-1zM1037 221h1v1h-1zM1038 222h1v1h-1zM1039 223h1v1h-1zM1040 224h1v1h-1zM1041 225h1v1h-1zM1042 226h1v1h-1zM1043 227h1v1h-1zM1044 228h1v1h-1zM1045 229h1v1h-1zM1046 230h1v1h-1zM1047 231h1v1h-1zM1048 232h1v1h-1zM1049 233h1v1h-1zM1050 234h1v1h-1zM1051 235h1v1h-1zM1052 236h1v1h-1zM1053 237h1v1h-1zM1054 238h1v1h-1zM1055 239h1v1h-1zM1056 240h1v1h-1zM1057 241h1v1h-1zM1058 242h1v1h-1zM1059 243h1v1h-1zM1059 243h147v1h-147zM969 190h1v1h-1zM970 191h1v1h-1zM971 192h1v1h-1zM972 193h1v1h-1zM973 194h1v1h-1zM974 195h1v1h-1zM975 196h1v1h-1zM976 197h1v1h-1zM977 198h1v1h-1zM978 199h1v1h-1zM979 200h1v1h-1zM980 201h1v1h-1zM981 202h1v1h-1zM982 203h1v1h-1zM983 204h1v1h-1zM984 205h1v1h-1zM985 206h1v1h-1zM986 207h1v1h-1zM987 208h1v1h-1zM988 209h1v1h-1zM989 210h1v1h-1zM990 211h1v1h-1zM991 212h1v1h-1zM992 213h1v1h-1zM993 214h1v1h-1zM994 215h1v1h-1zM995 216h1v1h-1zM996 217h1v1h-1zM997 218h1v1h-1zM998 219h1v1h-1zM999 220h1v1h-1zM1000 221h1v1h-1zM1001 222h1v1h-1zM1002 223h1v1h-1zM1003 224h1v1h-1zM1004 225h1v1h-1zM1005 226h1v1h-1zM1006 227h1v1h-1zM1007 228h1v1h-1zM1008 229h1v1h-1zM1009 230h1v1h-1zM1010 231h1v1h-1zM1011 232h1v1h-1zM1012 233h1v1h-1zM1013 234h1v1h-1zM1014 235h1v1h-1zM1015 236h1v1h-1zM1016 237h1v1h-1zM1017 238h1v1h-1zM1018 239h1v1h-1zM1019 240h1v1h-1zM1020 241h1v1h-1zM1021 242h1v1h-1zM1022 243h1v1h-1zM1023 244h1v1h-1zM1024 245h1v1h-1zM1025 246h1v1h-1zM1026 247h1v1h-1zM1027 248h1v1h-1zM1028 249h1v1h-1zM1029 250h1v1h-1zM1030 251h1v1h-1zM1031 252h1v1h-1zM1032 253h1v1h-1zM1033 254h1v1h-1zM1034 255h1v1h-1zM1035 256h1v1h-1zM1036 257h1v1h-1zM1037 258h1v1h-1zM1038 259h1v1h-1zM1039 260h1v1h-1zM1040 261h1v1h-1zM1041 262h1v1h-1zM1042 263h1v1h-1zM1043 264h1v1h-1zM1044 265h1v1h-1zM1045 266h1v1h-1zM1046 267h1v1h-1zM1047 268h1v1h-1zM1048 269h1v1h-1zM1049 270h1v1h-1zM1050 271h1v1h-1zM1051 272h1v1h-1zM1052 273h1v1h-1zM1053 274h1v1h-1zM1054 275h1v1h-1zM1055 276h1v1h-1zM1055 276h148v1h-148zM1058 297h1v3h-1zM1059 300h1v4h-1zM1060 304h1v4h-1zM1061 308h1v5h-1zM1062 313h1v4h-1zM1063 317h1v4h-1zM1064 321h1v5h-1zM1065 326h1v4h-1zM1066 330h1v4h-1zM1067 334h1v3h-1zM1067 336h141v1h-141zM171 386h1v1h-1zM172 387h1v1h-1zM173 388h1v1h-1zM174 389h1v1h-1zM175 390h1v1h-1zM176 391h2v1h-2zM178 392h1v1h-1zM179 393h1v1h-1zM180 394h1v1h-1zM181 395h1v1h-1zM182 396h1v1h-1zM183 397h1v1h-1zM184 398h1v1h-1zM185 399h1v1h-1zM186 400h2v1h-2zM188 401h1v1h-1zM189 402h1v1h-1zM190 403h1v1h-1zM191 404h1v1h-1zM192 405h1v1h-1zM193 406h1v1h-1zM194 407h1v1h-1zM195 408h1v1h-1zM196 409h2v1h-2zM198 410h1v1h-1zM199 411h1v1h-1zM200 412h1v1h-1zM201 413h1v1h-1zM202 414h1v1h-1zM203 415h1v1h-1zM204 416h1v1h-1zM205 417h1v1h-1zM206 418h2v1h-2zM208 419h1v1h-1zM209 420h1v1h-1zM210 421h1v1h-1zM211 422h1v1h-1zM212 423h1v1h-1zM213 424h1v1h-1zM214 425h1v1h-1zM215 426h1v1h-1zM216 427h2v1h-2zM218 428h1v1h-1zM219 429h1v1h-1zM220 430h1v1h-1zM221 431h1v1h-1zM222 432h1v1h-1zM223 433h1v1h-1zM224 434h1v1h-1zM225 435h1v1h-1zM226 436h2v1h-2zM228 437h1v1h-1zM229 438h1v1h-1zM230 439h1v1h-1zM231 440h1v1h-1zM232 441h1v1h-1zM233 442h1v1h-1zM234 443h1v1h-1zM235 444h1v1h-1zM236 445h1v1h-1zM237 446h2v1h-2zM239 447h1v1h-1zM240 448h1v1h-1zM241 449h1v1h-1zM242 450h1v1h-1zM243 451h1v1h-1zM244 452h1v1h-1zM245 453h1v1h-1zM246 454h1v1h-1zM247 455h2v1h-2zM249 456h1v1h-1zM250 457h1v1h-1zM251 458h1v1h-1zM252 459h1v1h-1zM253 460h1v1h-1zM254 461h1v1h-1zM255 462h1v1h-1zM256 463h1v1h-1zM257 464h2v1h-2zM259 465h1v1h-1zM260 466h1v1h-1zM261 467h1v1h-1zM262 468h1v1h-1zM263 469h1v1h-1zM264 470h1v1h-1zM265 471h1v1h-1zM266 472h1v1h-1zM267 473h2v1h-2zM269 474h1v1h-1zM270 475h1v1h-1zM271 476h1v1h-1zM272 477h1v1h-1zM273 478h1v1h-1zM274 479h1v1h-1zM275 480h1v1h-1zM276 481h1v1h-1zM277 482h2v1h-2zM279 483h1v1h-1zM280 484h1v1h-1zM281 485h1v1h-1zM282 486h1v1h-1zM283 487h1v1h-1zM284 488h1v1h-1zM285 489h1v1h-1zM286 490h1v1h-1zM287 491h2v1h-2zM289 492h1v1h-1zM290 493h1v1h-1zM291 494h1v1h-1zM292 495h1v1h-1zM293 496h1v1h-1zM294 497h1v1h-1zM295 498h1v1h-1zM296 499h1v1h-1zM297 500h1v1h-1zM298 501h2v1h-2zM300 502h1v1h-1zM301 503h1v1h-1zM302 504h1v1h-1zM303 505h1v1h-1zM304 506h1v1h-1zM305 507h1v1h-1zM306 508h1v1h-1zM307 509h1v1h-1zM308 510h2v1h-2zM310 511h1v1h-1zM311 512h1v1h-1zM312 513h1v1h-1zM313 514h1v1h-1zM314 515h1v1h-1zM315 516h1v1h-1zM316 517h1v1h-1zM317 518h1v1h-1zM318 519h2v1h-2zM320 520h1v1h-1zM321 521h1v1h-1zM322 522h1v1h-1zM323 523h1v1h-1zM324 524h1v1h-1zM325 525h1v1h-1zM326 526h1v1h-1zM327 527h1v1h-1zM328 528h2v1h-2zM330 529h1v1h-1zM331 530h1v1h-1zM332 531h1v1h-1zM333 532h1v1h-1zM334 533h1v1h-1zM335 534h1v1h-1zM336 535h1v1h-1zM337 536h1v1h-1zM338 537h2v1h-2zM340 538h1v1h-1zM341 539h1v1h-1zM342 540h1v1h-1zM343 541h1v1h-1zM344 542h1v1h-1zM345 543h1v1h-1zM346 544h1v1h-1zM347 545h1v1h-1zM348 546h2v1h-2zM350 547h1v1h-1zM351 548h1v1h-1zM352 549h1v1h-1zM353 550h1v1h-1zM354 551h1v1h-1zM354 551h80v1h-80zM155 415h1v1h-1zM156 416h1v1h-1zM157 417h1v1h-1zM158 418h1v1h-1zM159 419h2v1h-2zM161 420h1v1h-1zM162 421h1v1h-1zM163 422h1v1h-1zM164 423h1v1h-1zM165 424h1v1h-1zM166 425h1v1h-1zM167 426h1v1h-1zM168 427h1v1h-1zM169 428h2v1h-2zM171 429h1v1h-1zM172 430h1v1h-1zM173 431h1v1h-1zM174 432h1v1h-1zM175 433h1v1h-1zM176 434h1v1h-1zM177 435h1v1h-1zM178 436h2v1h-2zM180 437h1v1h-1zM181 438h1v1h-1zM182 439h1v1h-1zM183 440h1v1h-1zM184 441h1v1h-1zM185 442h1v1h-1zM186 443h1v1h-1zM187 444h2v1h-2zM189 445h1v1h-1zM190 446h1v1h-1zM191 447h1v1h-1zM192 448h1v1h-1zM193 449h1v1h-1zM194 450h1v1h-1zM195 451h1v1h-1zM196 452h1v1h-1zM197 453h2v1h-2zM199 454h1v1h-1zM200 455h1v1h-1zM201 456h1v1h-1zM202 457h1v1h-1zM203 458h1v1h-1zM204 459h1v1h-1zM205 460h1v1h-1zM206 461h2v1h-2zM208 462h1v1h-1zM209 463h1v1h-1zM210 464h1v1h-1zM211 465h1v1h-1zM212 466h1v1h-1zM213 467h1v1h-1zM214 468h1v1h-1zM215 469h1v1h-1zM216 470h2v1h-2zM218 471h1v1h-1zM219 472h1v1h-1zM220 473h1v1h-1zM221 474h1v1h-1zM222 475h1v1h-1zM223 476h1v1h-1zM224 477h1v1h-1zM225 478h2v1h-2zM227 479h1v1h-1zM228 480h1v1h-1zM229 481h1v1h-1zM230 482h1v1h-1zM231 483h1v1h-1zM232 484h1v1h-1zM233 485h1v1h-1zM234 486h2v1h-2zM236 487h1v1h-1zM237 488h1v1h-1zM238 489h1v1h-1zM239 490h1v1h-1zM240 491h1v1h-1zM241 492h1v1h-1zM242 493h1v1h-1zM243 494h1v1h-1zM244 495h2v1h-2zM246 496h1v1h-1zM247 497h1v1h-1zM248 498h1v1h-1zM249 499h1v1h-1zM250 500h1v1h-1zM251 501h1v1h-1zM252 502h1v1h-1zM253 503h2v1h-2zM255 504h1v1h-1zM256 505h1v1h-1zM257 506h1v1h-1zM258 507h1v1h-1zM259 508h1v1h-1zM260 509h1v1h-1zM261 510h1v1h-1zM262 511h1v1h-1zM263 512h2v1h-2zM265 513h1v1h-1zM266 514h1v1h-1zM267 515h1v1h-1zM268 516h1v1h-1zM269 517h1v1h-1zM270 518h1v1h-1zM271 519h1v1h-1zM272 520h2v1h-2zM274 521h1v1h-1zM275 522h1v1h-1zM276 523h1v1h-1zM277 524h1v1h-1zM278 525h1v1h-1zM279 526h1v1h-1zM280 527h1v1h-1zM281 528h2v1h-2zM283 529h1v1h-1zM284 530h1v1h-1zM285 531h1v1h-1zM286 532h1v1h-1zM287 533h1v1h-1zM288 534h1v1h-1zM289 535h1v1h-1zM290 536h1v1h-1zM291 537h2v1h-2zM293 538h1v1h-1zM294 539h1v1h-1zM295 540h1v1h-1zM296 541h1v1h-1zM297 542h1v1h-1zM298 543h1v1h-1zM299 544h1v1h-1zM300 545h2v1h-2zM302 546h1v1h-1zM303 547h1v1h-1zM304 548h1v1h-1zM305 549h1v1h-1zM306 550h1v1h-1zM307 551h1v1h-1zM308 552h1v1h-1zM309 553h1v1h-1zM310 554h2v1h-2zM312 555h1v1h-1zM313 556h1v1h-1zM314 557h1v1h-1zM315 558h1v1h-1zM316 559h1v1h-1zM317 560h1v1h-1zM318 561h1v1h-1zM319 562h2v1h-2zM321 563h1v1h-1zM322 564h1v1h-1zM323 565h1v1h-1zM324 566h1v1h-1zM325 567h1v1h-1zM326 568h1v1h-1zM327 569h1v1h-1zM328 570h2v1h-2zM330 571h1v1h-1zM331 572h1v1h-1zM332 573h1v1h-1zM333 574h1v1h-1zM334 575h1v1h-1zM335 576h1v1h-1zM336 577h1v1h-1zM337 578h1v1h-1zM338 579h2v1h-2zM340 580h1v1h-1zM341 581h1v1h-1zM342 582h1v1h-1zM343 583h1v1h-1zM343 583h110v1h-110zM386 398h1v1h-1zM387 399h2v1h-2zM389 400h1v1h-1zM390 401h2v1h-2zM392 402h1v1h-1zM393 403h2v1h-2zM395 404h1v1h-1zM396 405h1v1h-1zM397 406h2v1h-2zM399 407h1v1h-1zM400 408h2v1h-2zM402 409h1v1h-1zM403 410h2v1h-2zM405 411h1v1h-1zM406 412h2v1h-2zM408 413h1v1h-1zM409 414h2v1h-2zM411 415h1v1h-1zM412 416h2v1h-2zM414 417h1v1h-1zM415 418h1v1h-1zM416 419h2v1h-2zM418 420h1v1h-1zM419 421h2v1h-2zM421 422h1v1h-1zM422 423h2v1h-2zM424 424h1v1h-1zM425 425h2v1h-2zM427 426h1v1h-1zM428 427h2v1h-2zM430 428h1v1h-1zM431 429h2v1h-2zM433 430h1v1h-1zM434 431h1v1h-1zM435 432h2v1h-2zM437 433h1v1h-1zM438 434h2v1h-2zM440 435h1v1h-1zM441 436h2v1h-2zM443 437h1v1h-1zM444 438h2v1h-2zM446 439h1v1h-1zM447 440h2v1h-2zM449 441h1v1h-1zM450 442h2v1h-2zM452 443h1v1h-1zM453 444h1v1h-1zM454 445h2v1h-2zM456 446h1v1h-1zM457 447h2v1h-2zM459 448h1v1h-1zM460 449h2v1h-2zM462 450h1v1h-1zM463 451h2v1h-2zM465 452h1v1h-1zM466 453h2v1h-2zM468 454h1v1h-1zM469 455h2v1h-2zM471 456h1v1h-1zM472 457h1v1h-1zM473 458h2v1h-2zM475 459h1v1h-1zM476 460h2v1h-2zM478 461h1v1h-1zM479 462h2v1h-2zM481 463h1v1h-1zM482 464h2v1h-2zM484 465h1v1h-1zM485 466h2v1h-2zM487 467h1v1h-1zM488 468h2v1h-2zM490 469h1v1h-1zM491 470h2v1h-2zM493 471h1v1h-1zM494 472h1v1h-1zM495 473h2v1h-2zM497 474h1v1h-1zM498 475h2v1h-2zM500 476h1v1h-1zM501 477h2v1h-2zM503 478h1v1h-1zM504 479h2v1h-2zM506 480h1v1h-1zM507 481h2v1h-2zM509 482h1v1h-1zM510 483h2v1h-2zM512 484h1v1h-1zM513 485h1v1h-1zM514 486h2v1h-2zM516 487h1v1h-1zM517 488h2v1h-2zM519 489h1v1h-1zM520 490h2v1h-2zM522 491h1v1h-1zM523 492h2v1h-2zM525 493h1v1h-1zM526 494h2v1h-2zM528 495h1v1h-1zM529 496h2v1h-2zM531 497h1v1h-1zM532 498h1v1h-1zM533 499h2v1h-2zM535 500h1v1h-1zM536 501h2v1h-2zM538 502h1v1h-1zM539 503h2v1h-2zM541 504h1v1h-1zM542 505h2v1h-2zM544 506h1v1h-1zM545 507h2v1h-2zM547 508h1v1h-1zM548 509h2v1h-2zM550 510h1v1h-1zM551 511h1v1h-1zM552 512h2v1h-2zM554 513h1v1h-1zM555 514h2v1h-2zM557 515h1v1h-1zM558 516h2v1h-2zM560 517h1v1h-1zM561 518h2v1h-2zM563 519h1v1h-1zM564 520h2v1h-2zM566 521h1v1h-1zM567 522h2v1h-2zM569 523h1v1h-1zM570 524h1v1h-1zM571 525h2v1h-2zM573 526h1v1h-1zM574 527h2v1h-2zM576 528h1v1h-1zM577 529h2v1h-2zM579 530h1v1h-1zM579 510h140v1h-140zM579 510h1v21h-1zM579 530h140v1h-140zM152 716h1v1h-1zM153 715h1v1h-1zM154 714h1v1h-1zM155 713h1v1h-1zM524 716h1v1h-1zM525 715h1v1h-1zM526 714h1v1h-1zM527 713h1v1h-1zM1074 716h1v1h-1zM1075 715h1v1h-1zM1076 714h1v1h-1zM1077 713h1v1h-1z"/>
<path class="s" stroke="#000" stroke-dasharray="1 5" d="M154.5 239V419M964.5 103V191M631 261.5H714M872 261.5H955"/>
<defs><pattern id="sl" width="4" height="4" patternUnits="userSpaceOnUse"><rect width="4" height="4" fill="#000"/><path d="M0 0h2v1h1v1h1v2h-1v-1h-2v-1h-1z" fill="#ff7f00"/></pattern></defs>
<circle class="s" cx="36.5" cy="744.5" r="19" stroke="#00ff00"/>
<circle cx="652.5" cy="309.5" r="8" class="s" stroke="#ff0000" stroke-dasharray="4 3"/>
<circle cx="652.5" cy="309.5" r="5" class="s" stroke="#fff"/>
<circle cx="652.5" cy="309.5" r="3" class="s" stroke="#ff0000" stroke-dasharray="3 2"/>
<circle cx="686.5" cy="309.5" r="8" class="s" stroke="#ff0000" stroke-dasharray="4 3"/>
<circle cx="686.5" cy="309.5" r="5" class="s" stroke="#fff"/>
<circle cx="686.5" cy="309.5" r="3" class="s" stroke="#ff0000" stroke-dasharray="3 2"/>
<circle cx="893.5" cy="309.5" r="8" class="s" stroke="#ff0000" stroke-dasharray="4 3"/>
<circle cx="893.5" cy="309.5" r="5" class="s" stroke="#fff"/>
<circle cx="893.5" cy="309.5" r="3" class="s" stroke="#ff0000" stroke-dasharray="3 2"/>
<circle cx="927.5" cy="309.5" r="8" class="s" stroke="#ff0000" stroke-dasharray="4 3"/>
<circle cx="927.5" cy="309.5" r="5" class="s" stroke="#fff"/>
<circle cx="927.5" cy="309.5" r="3" class="s" stroke="#ff0000" stroke-dasharray="3 2"/>
<circle cx="1012.5" cy="130.5" r="8" class="s" stroke="#ff0000" stroke-dasharray="4 3"/>
<circle cx="1012.5" cy="130.5" r="5" class="s" stroke="#fff"/>
<circle cx="1012.5" cy="130.5" r="3" class="s" stroke="#ff0000" stroke-dasharray="3 2"/>
<circle cx="1012.5" cy="164.5" r="8" class="s" stroke="#ff0000" stroke-dasharray="4 3"/>
<circle cx="1012.5" cy="164.5" r="5" class="s" stroke="#fff"/>
<circle cx="1012.5" cy="164.5" r="3" class="s" stroke="#ff0000" stroke-dasharray="3 2"/>
</g>
<g fill="#fff" stroke="#fff" stroke-width="0" style="will-change:transform">
<text><tspan class="l" x="646.7" y="57" font-size="16.76" textLength="17.5" lengthAdjust="spacingAndGlyphs">Φ89</tspan> <tspan class="l" x="673.1" y="57" font-size="16.76" textLength="31.1" lengthAdjust="spacingAndGlyphs">X5mm</tspan> <tspan class="c" x="722.5" y="56.52" font-size="18.26" textLength="45.5" lengthAdjust="spacingAndGlyphs" font-weight="350">镀锌钢管</tspan> <tspan class="l" x="768" y="57" font-size="16.76" textLength="38.3" lengthAdjust="spacingAndGlyphs">@=2000</tspan></text>
<text><tspan class="l" x="1078" y="108" font-size="11.87" textLength="7" lengthAdjust="spacingAndGlyphs" stroke-width=".4">□</tspan> <tspan class="l" x="1086.6" y="110.7" font-size="16.06" textLength="14.9" lengthAdjust="spacingAndGlyphs">100</tspan> <tspan class="l" x="1112" y="110.7" font-size="16.06" textLength="21.9" lengthAdjust="spacingAndGlyphs">X50</tspan> <tspan class="l" x="1141.8" y="110.7" font-size="16.06" textLength="31.4" lengthAdjust="spacingAndGlyphs">X3mm</tspan> <tspan class="c" x="1191.1" y="110.68" font-size="17.5" textLength="33.9" lengthAdjust="spacingAndGlyphs" font-weight="350">铝方管</tspan></text>
<text><tspan class="l" x="1096.7" y="190.6" font-size="16.06" textLength="16.8" lengthAdjust="spacingAndGlyphs">M12</tspan> <tspan class="l" x="1124.7" y="190.6" font-size="16.06" textLength="25.7" lengthAdjust="spacingAndGlyphs">X100</tspan> <tspan class="c" x="1162.8" y="190.03" font-size="18.15" textLength="58.9" lengthAdjust="spacingAndGlyphs" font-weight="350">不锈钢螺栓</tspan></text>
<text><tspan class="l" x="1076.6" y="234.6" font-size="16.06" textLength="17.8" lengthAdjust="spacingAndGlyphs">L40</tspan> <tspan class="l" x="1103" y="234.6" font-size="16.06" textLength="21.2" lengthAdjust="spacingAndGlyphs">X75</tspan> <tspan class="c" x="1134.4" y="234.41" font-size="18.48" textLength="57.5" lengthAdjust="spacingAndGlyphs" font-weight="350">角钢连接件</tspan></text>
<text><tspan class="l" x="1073.1" y="267" font-size="15.36" textLength="14.5" lengthAdjust="spacingAndGlyphs">100</tspan> <tspan class="l" x="1099.3" y="267" font-size="15.36" textLength="24.9" lengthAdjust="spacingAndGlyphs">X150</tspan> <tspan class="l" x="1136.2" y="267" font-size="15.36" textLength="15.4" lengthAdjust="spacingAndGlyphs">X8</tspan> <tspan class="c" x="1156.8" y="266.74" font-size="17.93" textLength="23.1" lengthAdjust="spacingAndGlyphs" font-weight="350">钢板</tspan></text>
<text><tspan class="l" x="1085.8" y="328" font-size="16.34" textLength="19.5" lengthAdjust="spacingAndGlyphs">3mm</tspan> <tspan class="c" x="1123.2" y="327.78" font-size="17.39" textLength="82.9" lengthAdjust="spacingAndGlyphs" font-weight="350">金属穿孔板幕墙</tspan></text>
<text><tspan class="l" x="364.8" y="546.4" font-size="9.78" textLength="10" lengthAdjust="spacingAndGlyphs" stroke-width=".4">M12</tspan> <tspan class="l" x="382.3" y="546.4" font-size="9.78" textLength="15.9" lengthAdjust="spacingAndGlyphs" stroke-width=".4">X140</tspan> <tspan class="c" x="405.4" y="546.44" font-size="10.87" textLength="27.6" lengthAdjust="spacingAndGlyphs" stroke-width=".4">化学螺栓</tspan></text>
<text><tspan class="l" x="354.6" y="578.5" font-size="10.2" textLength="9.4" lengthAdjust="spacingAndGlyphs" stroke-width=".4">300</tspan> <tspan class="l" x="371.1" y="578.5" font-size="10.2" textLength="16.7" lengthAdjust="spacingAndGlyphs" stroke-width=".4">X200</tspan> <tspan class="l" x="394.2" y="578.5" font-size="10.2" textLength="20.9" lengthAdjust="spacingAndGlyphs" stroke-width=".4">X10mm</tspan> <tspan class="c" x="428.1" y="577.8" font-size="10" textLength="13.2" lengthAdjust="spacingAndGlyphs" stroke-width=".4">钢板</tspan></text>
<text><tspan class="l" x="589.9" y="504.9" font-size="9.78" textLength="10.3" lengthAdjust="spacingAndGlyphs" stroke-width=".4">250</tspan> <tspan class="c" x="606.9" y="504.97" font-size="10.43" textLength="49.4" lengthAdjust="spacingAndGlyphs" stroke-width=".4">型不锈钢驳接爪</tspan></text>
<text><tspan class="l" x="589.9" y="525.8" font-size="10.2" textLength="54.3" lengthAdjust="spacingAndGlyphs" stroke-width=".4">8+12A+8mmLOW-E</tspan> <tspan class="c" x="677.8" y="525.52" font-size="11.09" textLength="42.3" lengthAdjust="spacingAndGlyphs" stroke-width=".4">钢化中空玻璃</tspan></text>
<text><tspan class="l" x="545.3" y="663.6" font-size="8.8" textLength="13.1" lengthAdjust="spacingAndGlyphs" stroke-width=".4">Φ48</tspan> <tspan class="l" x="565.1" y="663.6" font-size="8.8" textLength="19" lengthAdjust="spacingAndGlyphs" stroke-width=".4">X6mm</tspan> <tspan class="c" x="594.1" y="663.28" font-size="10.22" textLength="27.8" lengthAdjust="spacingAndGlyphs" stroke-width=".4">镀锌钢管</tspan></text>
<text class="l" x="328.9" y="713.9" font-size="13.55" textLength="20.4" lengthAdjust="spacingAndGlyphs">420</text>
<text class="l" x="774.8" y="713.7" font-size="13.27" textLength="50.7" lengthAdjust="spacingAndGlyphs">600/1200</text>
<text class="l" x="30.8" y="751.7" font-size="19.83" textLength="7.8" lengthAdjust="spacingAndGlyphs">8</text>
<text><tspan class="c" x="59" y="748.06" font-size="20.54" textLength="157" lengthAdjust="spacingAndGlyphs" font-weight="350">点式玻璃幕墙上收口节点</tspan> <tspan class="l" x="216.6" y="748.5" font-size="21.23" textLength="7.4" lengthAdjust="spacingAndGlyphs">4</tspan> <tspan class="l" x="225" y="748.5" font-size="11.87" textLength="7.4" lengthAdjust="spacingAndGlyphs" stroke-width=".4">:2</tspan></text>
<text class="c" x="440.6" y="751.92" font-size="16.85" textLength="107.8" lengthAdjust="spacingAndGlyphs" font-weight="350" fill="#ff7f00" stroke="#ff7f00">湖北凌志装饰工程有限公司</text>
<text class="c" x="364.1" y="783.8" font-size="10" textLength="21.4" lengthAdjust="spacingAndGlyphs" font-weight="700" fill="#ff7f00" stroke="#ff7f00" stroke-width=".25">项目负责</text>
<text class="c" x="364.1" y="820.78" font-size="10.33" textLength="21.4" lengthAdjust="spacingAndGlyphs" font-weight="700" fill="#ff7f00" stroke="#ff7f00" stroke-width=".25">专业审定</text>
<text class="c" x="364" y="857.18" font-size="10.33" textLength="27" lengthAdjust="spacingAndGlyphs" font-weight="700" fill="#ff7f00" stroke="#ff7f00" stroke-width=".25">校　　　对</text>
<text class="c" x="547.1" y="783.8" font-size="10" textLength="21.4" lengthAdjust="spacingAndGlyphs" font-weight="700" fill="#ff7f00" stroke="#ff7f00" stroke-width=".25">专业负责</text>
<text class="c" x="548.6" y="820.78" font-size="10.33" textLength="26" lengthAdjust="spacingAndGlyphs" font-weight="700" fill="#ff7f00" stroke="#ff7f00" stroke-width=".25">设　　　计</text>
<text class="c" x="548.6" y="857.18" font-size="10.33" textLength="26" lengthAdjust="spacingAndGlyphs" font-weight="700" fill="#ff7f00" stroke="#ff7f00" stroke-width=".25">制　　　图</text>
<text class="c" x="729.8" y="748.33" font-size="9.57" textLength="22.3" lengthAdjust="spacingAndGlyphs" font-weight="700" fill="#ff7f00" stroke="#ff7f00" stroke-width=".25">工程名称</text>
<text class="c" x="729.8" y="786.55" font-size="10.76" textLength="22.3" lengthAdjust="spacingAndGlyphs" font-weight="700" fill="#ff7f00" stroke="#ff7f00" stroke-width=".25">建设单位</text>
<text class="c" x="729.8" y="837.32" font-size="9.78" textLength="26.2" lengthAdjust="spacingAndGlyphs" font-weight="700" fill="#ff7f00" stroke="#ff7f00" stroke-width=".25">图　　　名</text>
<text class="c" x="782.8" y="750.44" font-size="16.52" textLength="212.8" lengthAdjust="spacingAndGlyphs" font-weight="350" fill="#ff7f00" stroke="#ff7f00">广西金川公司金沙镇生活设施(综合楼)外装饰</text>
<text class="c" x="810.9" y="787.75" font-size="15" textLength="41.5" lengthAdjust="spacingAndGlyphs" font-weight="350" fill="#ff7f00" stroke="#ff7f00">金川集团</text>
<text class="c" x="814.1" y="836.73" font-size="12.39" textLength="50.3" lengthAdjust="spacingAndGlyphs" font-weight="700">幕墙节点详图</text>
<text class="c" x="1127.2" y="747.12" font-size="9.67" textLength="16.5" lengthAdjust="spacingAndGlyphs" font-weight="700" fill="#ff7f00" stroke="#ff7f00" stroke-width=".25">工程号</text>
<text class="l" x="1176.9" y="752.8" font-size="12.29" textLength="39.5" lengthAdjust="spacingAndGlyphs" fill="#ff7f00" stroke="#ff7f00">2011-912</text>
<text class="c" x="1131" y="783.8" font-size="10" textLength="14.8" lengthAdjust="spacingAndGlyphs" font-weight="700" fill="#ff7f00" stroke="#ff7f00" stroke-width=".25">图　别</text>
<text class="c" x="1190.7" y="784.09" font-size="10.11" textLength="13.9" lengthAdjust="spacingAndGlyphs" font-weight="700" fill="#ff7f00" stroke="#ff7f00" stroke-width=".25">装饰</text>
<text class="c" x="1131" y="820.78" font-size="10.33" textLength="14.8" lengthAdjust="spacingAndGlyphs" font-weight="700" fill="#ff7f00" stroke="#ff7f00" stroke-width=".25">图　号</text>
<text><tspan class="c" x="1182.8" y="823.07" font-size="9.02" textLength="14.2" lengthAdjust="spacingAndGlyphs" font-weight="700" stroke-width=".25">装饰</tspan> <tspan class="l" x="1197" y="823.5" font-size="9.08" textLength="14.2" lengthAdjust="spacingAndGlyphs" stroke-width=".4">--77</tspan></text>
<text class="c" x="1131" y="856.82" font-size="9.67" textLength="14.8" lengthAdjust="spacingAndGlyphs" font-weight="700" fill="#ff7f00" stroke="#ff7f00" stroke-width=".25">日　期</text>
<text class="l" x="1172.7" y="857" font-size="11.17" textLength="44.2" lengthAdjust="spacingAndGlyphs" fill="#ff7f00" stroke="#ff7f00" stroke-width=".4">2011.09.12</text>
</g>
</svg></body></html>
